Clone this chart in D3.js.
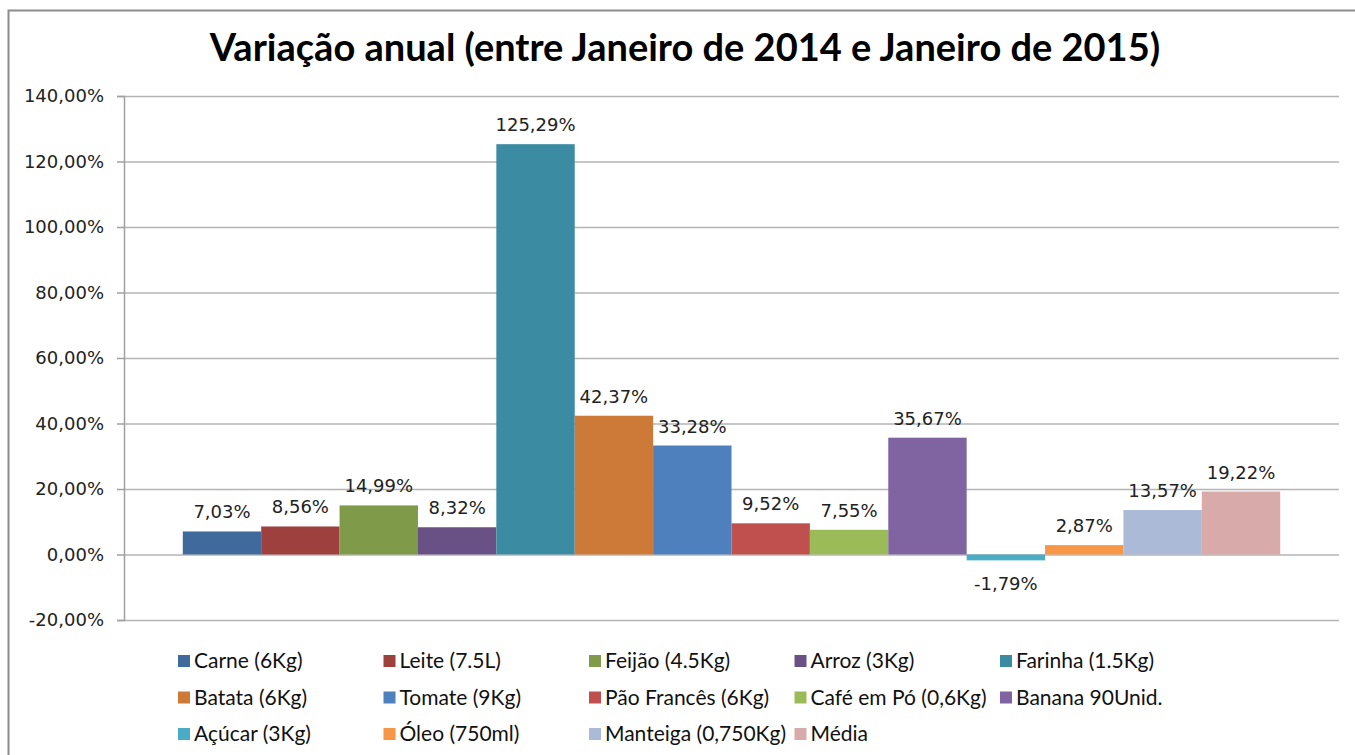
<!DOCTYPE html>
<html>
<head>
<meta charset="utf-8">
<script src="https://cdn.jsdelivr.net/npm/d3@7"></script>
<style>
  body { margin: 0; background: #fff; }
  svg { display: block; }
</style>
</head>
<body>
<svg id="chart" width="1355" height="755"></svg>
<script>
// series (one bar per item, single category)
const items = ["Carne (6Kg)", "Leite (7.5L)", "Feijão (4.5Kg)", "Arroz (3Kg)", "Farinha (1.5Kg)",
    "Batata (6Kg)", "Tomate (9Kg)", "Pão Francês (6Kg)", "Café em Pó (0,6Kg)", "Banana 90Unid.",
    "Açúcar (3Kg)", "Óleo (750ml)", "Manteiga (0,750Kg)", "Média"];
const values = [7.03, 8.56, 14.99, 8.32, 125.29, 42.37, 33.28, 9.52, 7.55, 35.67, -1.79, 2.87, 13.57, 19.22];
const colors = ["#40699c", "#9e413e", "#7f9a48", "#695185", "#3b8ba3", "#cd7a38", "#4e80bd",
    "#c0504d", "#9bbb59", "#8064a2", "#4bacc6", "#f79646", "#aabad7", "#d9aaaa"];
const yTicks = [-20, 0, 20, 40, 60, 80, 100, 120, 140];
const title = "Variação anual (entre Janeiro de 2014 e Janeiro de 2015)";

const svg = d3.select("svg#chart");
const plot = { left: 124, right: 1339, top: 96, bottom: 620 };

const ptBR = d3.formatLocale({ decimal: ",", thousands: ".", grouping: [3], currency: ["R$", ""], minus: "-" });
const pct = ptBR.format(".2f");

// outer chart border
svg.append("rect")
    .attr("x", 8.5).attr("y", 10.5)
    .attr("width", 1360).attr("height", 760)
    .attr("fill", "none")
    .attr("stroke", "#8c8c8c")
    .attr("stroke-width", 2);

// title
svg.append("text")
    .attr("x", 685)
    .attr("y", 61)
    .attr("text-anchor", "middle")
    .style("font-family", "Lato, 'Open Sans', sans-serif")
    .style("font-weight", "bold")
    .style("font-size", "38px")
    .style("fill", "#000")
    .text(title);

const x = d3.scaleBand()
    .domain(items)
    .range([plot.left, plot.right])
    .paddingInner(0)
    .paddingOuter(0.75);

const y = d3.scaleLinear()
    .domain([-20, 140])
    .range([plot.bottom, plot.top]);

// gridlines
svg.append("g")
    .attr("transform", `translate(${plot.left},0)`)
    .call(d3.axisLeft(y).tickValues(yTicks).tickSize(-(plot.right - plot.left)).tickFormat(""))
    .call(g => g.select(".domain").remove())
    .call(g => g.selectAll("line").attr("stroke", "#b4b4b4").attr("stroke-width", 1.5));

// y axis
svg.append("g")
    .attr("transform", `translate(${plot.left},0)`)
    .call(d3.axisLeft(y).tickValues(yTicks).tickSize(7).tickPadding(13).tickFormat(d => pct(d) + "%"))
    .call(g => g.select(".domain").attr("stroke", "#a0a0a0").attr("stroke-width", 1.5))
    .call(g => g.selectAll("line").attr("stroke", "#a0a0a0").attr("stroke-width", 1.5))
    .call(g => g.selectAll("text")
        .style("font-family", "'DejaVu Sans', Verdana, sans-serif")
        .style("font-size", "18px")
        .style("fill", "#222"));

// bars
svg.append("g")
    .selectAll("rect")
    .data(values)
    .join("rect")
    .attr("x", (d, i) => x(items[i]))
    .attr("width", x.bandwidth())
    .attr("y", d => y(Math.max(0, d)))
    .attr("height", d => Math.abs(y(d) - y(0)))
    .attr("fill", (d, i) => colors[i]);

// data labels
svg.append("g")
    .selectAll("text")
    .data(values)
    .join("text")
    .attr("x", (d, i) => x(items[i]) + x.bandwidth() / 2)
    .attr("y", d => d >= 0 ? y(d) - 13 : y(d) + 30)
    .attr("text-anchor", "middle")
    .style("font-family", "'DejaVu Sans', Verdana, sans-serif")
    .style("font-size", "18px")
    .style("fill", "#222")
    .text(d => pct(d) + "%");

// legend
const legend = svg.append("g");
const legendItems = legend.selectAll("g")
    .data(items)
    .join("g")
    .attr("transform", (d, i) => `translate(${178 + (i % 5) * 205.5},${661 + Math.floor(i / 5) * 36.5})`);
legendItems.append("rect")
    .attr("x", 0).attr("y", -6)
    .attr("width", 12).attr("height", 12)
    .attr("fill", (d, i) => colors[i]);
legendItems.append("text")
    .attr("x", 16)
    .attr("y", 7)
    .style("font-family", "Lato, 'Open Sans', sans-serif")
    .style("font-size", "21px")
    .style("fill", "#111")
    .text(d => d);
</script>
</body>
</html>
